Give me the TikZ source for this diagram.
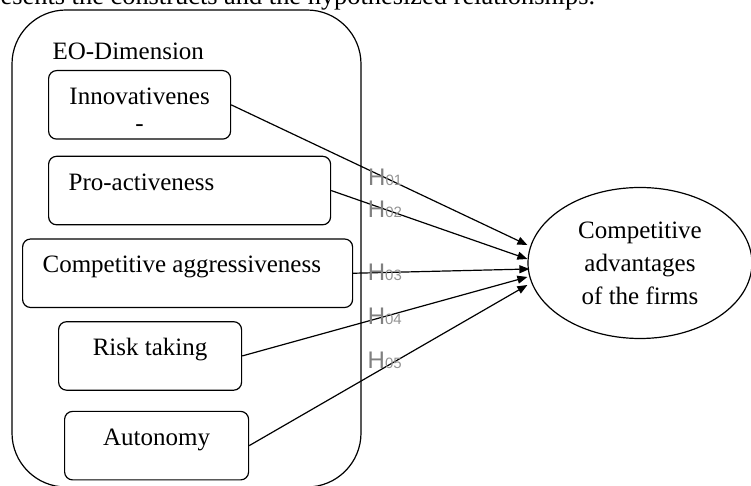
\documentclass[tikz,border=0pt]{standalone}
\usepackage{fontspec}
\setmainfont{Liberation Serif}
\newfontfamily\hfont{Liberation Sans}
\usetikzlibrary{positioning,shapes.geometric,arrows.meta}
\tikzset{dim box/.style={draw,rounded corners=4pt,inner xsep=0pt,inner ysep=0pt,text height=17pt,text depth=17.25pt},
hyp/.style={font=\hfont\fontsize{12}{12}\selectfont,text=gray,inner sep=0pt},
}
\newcommand{\hyplabel}[1]{H{\fontsize{7.5}{8}\selectfont\color{gray!85}#1}}

\begin{document}
\begin{tikzpicture}[x=0.5pt,y=-0.5pt,font=\fontsize{12.5}{15}\selectfont,line width=0.6pt,>={Triangle[length=5pt,width=4pt]}]
	\useasboundingbox (0,0) rectangle (751,486);
	\clip (0,0) rectangle (751,486);
	\node[anchor=base west,inner sep=0pt,font=\fontsize{13.2}{15}\selectfont] (caption) at (0,5) {esents the constructs and the hypothesized relationships.};
	\node[draw,rounded corners=27pt,minimum width=174.5pt,minimum height=238.5pt,inner sep=0pt] (eo) at (186.5,248.5) {};
	\node[anchor=base west,inner sep=0pt] (eotitle) at (52,60) {EO-Dimension};
	\node[dim box,minimum width=91pt,anchor=north west] (innov) at (48,70) {\begin{tabular}[t]{@{}c@{}}Innovativenes\\[-1.5pt]-\end{tabular}};
	\node[dim box,below=8pt of innov.south west,anchor=north west,minimum width=141pt] (pro) {\makebox[141pt][l]{\hspace{10pt}Pro-activeness}};
	\node[dim box,below left=6.5pt and 13pt of pro.south west,anchor=north west,minimum width=165pt] (comp) {\makebox[165pt][l]{\hspace{10pt}Competitive aggressiveness}};
	\node[dim box,below right=6.5pt and 18pt of comp.south west,anchor=north west,minimum width=91.5pt] (risk) {Risk taking};
	\node[dim box,below right=10pt and 3pt of risk.south west,anchor=north west,minimum width=92pt] (autonomy) {Autonomy};
	\node[ellipse,draw,minimum width=112pt,minimum height=75.5pt,inner sep=0pt,align=center,font=\fontsize{12.5}{16.5}\selectfont] (adv) at (640,263) {Competitive\\advantages\\of the firms};
	
	\path[->]
	(innov.east) edge node[hyp,pos=0.52] {\hyplabel{01}} ([yshift=9pt]adv.west)
	(pro.east) edge node[hyp,pos=0.274] {\hyplabel{02}} ([yshift=2pt]adv.west)
	(comp.east) edge node[hyp,pos=0.18] {\hyplabel{03}} ([xshift=1pt,yshift=-3pt]adv.west)
	(risk.east) edge node[hyp,pos=0.5] {\hyplabel{04}} ([yshift=-7pt]adv.west)
	(autonomy.east) edge node[hyp,pos=0.487,yshift=3.5pt] {\hyplabel{05}} ([yshift=-11pt]adv.west);
\end{tikzpicture}
\end{document}
